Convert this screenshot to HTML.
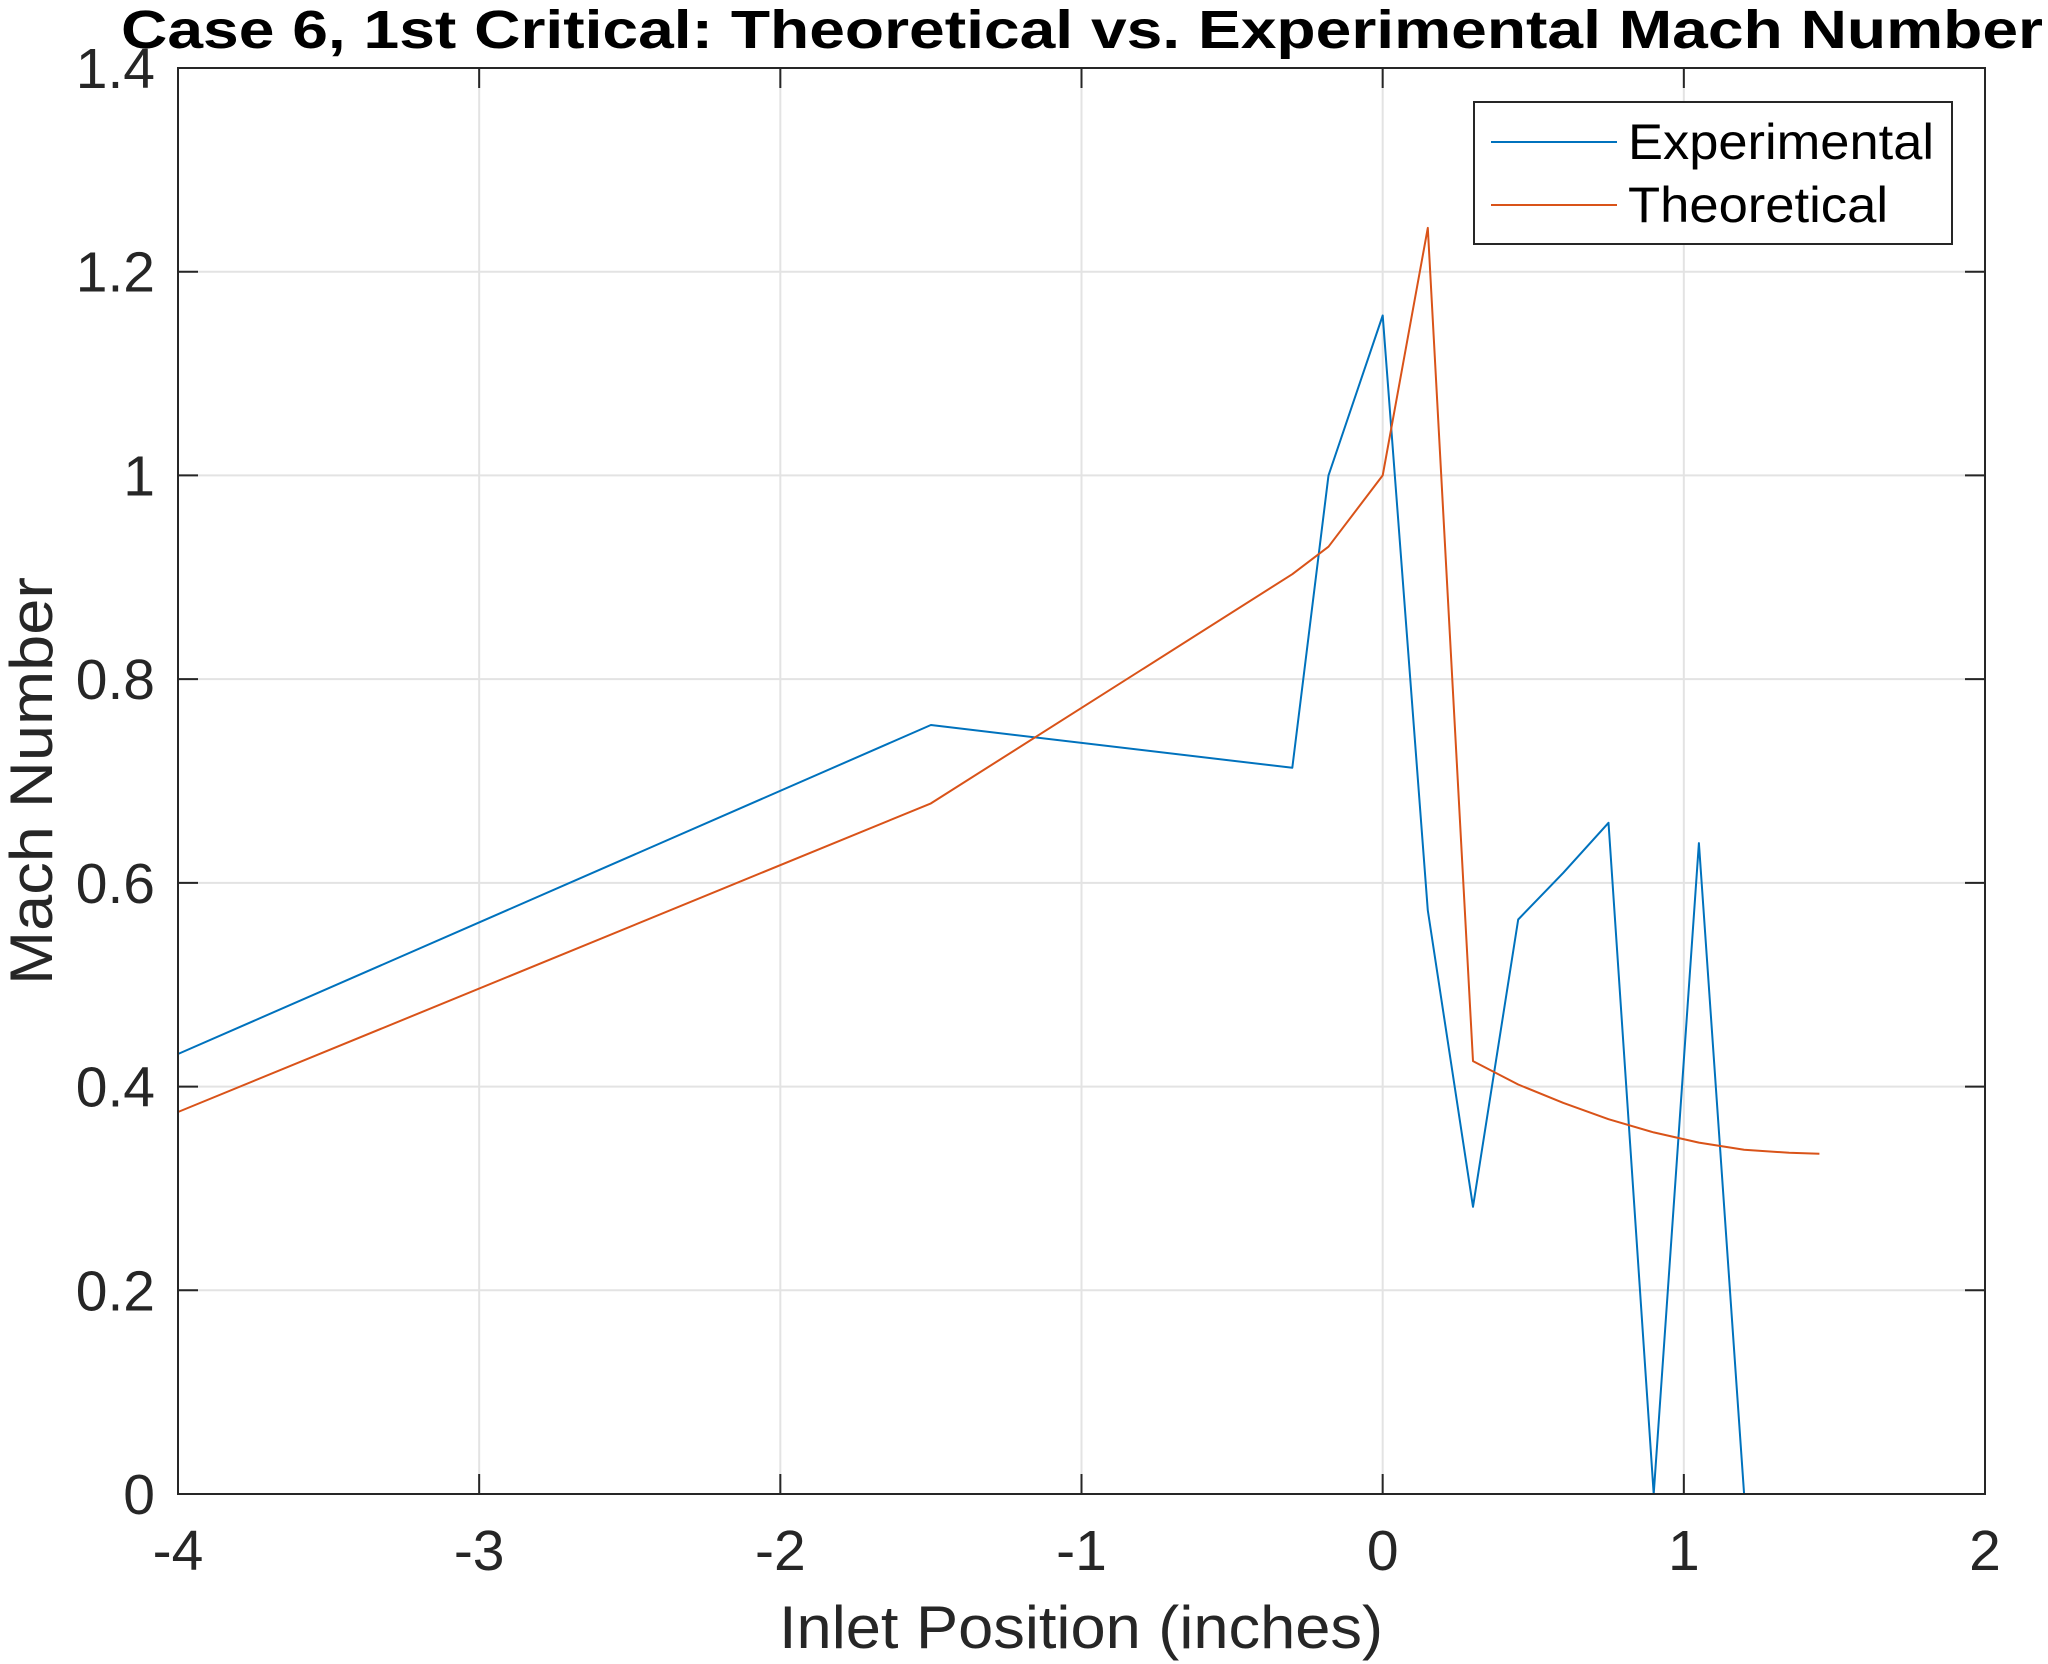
<!DOCTYPE html>
<html><head><meta charset="utf-8"><style>
html,body{margin:0;padding:0;background:#fff;}
svg{display:block;font-family:"Liberation Sans",Arial,sans-serif;}
</style></head><body>
<svg id="chart" width="2048" height="1664" viewBox="0 0 2048 1664" xmlns="http://www.w3.org/2000/svg">
<rect x="0" y="0" width="2048" height="1664" fill="#fff"/>
<g id="grid"></g>
<g id="series"></g>
<g id="axes"></g>
<text x="1082" y="48" text-anchor="middle" font-weight="bold" font-size="54" textLength="1922" lengthAdjust="spacingAndGlyphs" fill="#000">Case 6, 1st Critical: Theoretical vs. Experimental Mach Number</text>
<text x="1081" y="1648" text-anchor="middle" font-size="60" textLength="604" lengthAdjust="spacingAndGlyphs" fill="#262626">Inlet Position (inches)</text>
<text transform="translate(52,781) rotate(-90)" text-anchor="middle" font-size="60" textLength="408" lengthAdjust="spacingAndGlyphs" fill="#262626">Mach Number</text>
<g>
<rect x="1474" y="102" width="478" height="142" fill="#fff" stroke="#262626" stroke-width="2"/>
<line x1="1491" y1="142" x2="1617" y2="142" stroke="#0072BD" stroke-width="2"/>
<text x="1628" y="159" font-size="50" textLength="306" lengthAdjust="spacingAndGlyphs" fill="#000">Experimental</text>
<line x1="1491" y1="205" x2="1617" y2="205" stroke="#D95319" stroke-width="2"/>
<text x="1628" y="222" font-size="50" textLength="260" lengthAdjust="spacingAndGlyphs" fill="#000">Theoretical</text>
</g>
</svg>
<script>
const xValues = [-4, -1.5, -0.3, -0.18, 0, 0.15, 0.3, 0.45, 0.6, 0.75, 0.9, 1.05, 1.2, 1.35, 1.45];
const experimental = [0.432, 0.755, 0.713, 1.0, 1.157, 0.573, 0.282, 0.564, 0.61, 0.659, 0, 0.639, 0, 0, 0];
const theoretical = [0.375, 0.678, 0.903, 0.93, 1.0, 1.243, 0.425, 0.402, 0.384, 0.368, 0.355, 0.345, 0.338, 0.335, 0.334];
const xTicks = [-4, -3, -2, -1, 0, 1, 2];
const yTicks = [0, 0.2, 0.4, 0.6, 0.8, 1, 1.2, 1.4];
const yTickLabels = ["0", "0.2", "0.4", "0.6", "0.8", "1", "1.2", "1.4"];

const L = 178, R = 1985, T = 68, B = 1494;
const xs = v => L + (v + 4) / 6 * (R - L);
const ys = v => B - v / 1.4 * (B - T);
const NS = "http://www.w3.org/2000/svg";
function mk(tag, attrs, parent) {
  const e = document.createElementNS(NS, tag);
  for (const k in attrs) e.setAttribute(k, attrs[k]);
  parent.appendChild(e);
  return e;
}
const grid = document.getElementById('grid');
const axes = document.getElementById('axes');
const series = document.getElementById('series');
xTicks.forEach(t => {
  const x = xs(t);
  const g = mk('line', {x1: x, y1: T, x2: x, y2: B, stroke: '#e3e3e3', 'stroke-width': 2}, grid);
  
  
  const tk = mk('path', {d: `M${x},${B}v-20M${x},${T}v20`, stroke: '#262626', 'stroke-width': 2}, axes);
  
  
  const lb = mk('text', {x: x, y: 1570, 'text-anchor': 'middle', 'font-size': 57, fill: '#262626'}, axes);
  lb.textContent = String(t);
  
  
});
yTicks.forEach((t, i) => {
  const y = ys(t);
  const g = mk('line', {x1: L, y1: y, x2: R, y2: y, stroke: '#e3e3e3', 'stroke-width': 2}, grid);
  
  
  const tk = mk('path', {d: `M${L},${y}h20M${R},${y}h-20`, stroke: '#262626', 'stroke-width': 2}, axes);
  
  
  const lb = mk('text', {x: 155, y: y + 20, 'text-anchor': 'end', 'font-size': 57, fill: '#262626'}, axes);
  lb.textContent = yTickLabels[i];
  
  
});
const box = mk('rect', {x: L, y: T, width: R - L, height: B - T, fill: 'none', stroke: '#262626', 'stroke-width': 2}, axes);


function line(vals, color, name) {
  const pts = xValues.map((x, i) => xs(x).toFixed(1) + ',' + ys(vals[i]).toFixed(1)).join(' ');
  const p = mk('polyline', {points: pts, fill: 'none', stroke: color, 'stroke-width': 2, 'stroke-linejoin': 'round'}, series);
  
  
}
line(experimental, '#0072BD', 'experimental-line');
line(theoretical, '#D95319', 'theoretical-line');
</script>
</body></html>
